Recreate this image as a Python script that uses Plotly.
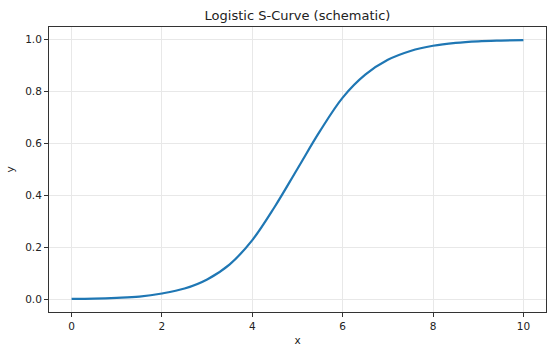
import plotly.graph_objects as go

x_vals = [0, 0.5, 1, 1.5, 2, 2.5, 3, 3.5, 4, 4.5, 5, 5.5, 6, 6.5, 7, 7.5, 8, 8.5, 9, 9.5, 10]
y_vals = [0.003, 0.004, 0.007, 0.012, 0.024, 0.043, 0.078, 0.136, 0.229, 0.358, 0.503,
          0.648, 0.776, 0.864, 0.921, 0.955, 0.975, 0.986, 0.992, 0.995, 0.997]
x_ticks = [0, 2, 4, 6, 8, 10]
y_ticks = [0.0, 0.2, 0.4, 0.6, 0.8, 1.0]
y_tick_text = ["0.0", "0.2", "0.4", "0.6", "0.8", "1.0"]

fig = go.Figure()
fig.add_trace(go.Scatter(x=x_vals, y=y_vals, mode="lines",
                         line=dict(color="#1f77b4", width=2.2, shape="spline", smoothing=1.0),
                         showlegend=False, hoverinfo="skip"))

axis_common = dict(showline=True, linecolor="#333333", linewidth=1, mirror=True,
                   ticks="outside", ticklen=4, tickwidth=1, tickcolor="#333333",
                   showgrid=True, gridcolor="#e8e8e8", gridwidth=1, zeroline=False,
                   tickfont=dict(family="DejaVu Sans", size=10.5, color="#222222"))

fig.update_layout(
    width=554, height=353,
    margin=dict(l=49, r=8, t=27, b=41),
    paper_bgcolor="white", plot_bgcolor="white",
    title=dict(text="Logistic S-Curve (schematic)", x=(49 + 546) / 2 / 554, xanchor="center",
               y=1 - 15 / 353, yanchor="middle",
               font=dict(family="DejaVu Sans", size=13, color="#222222")),
    font=dict(family="DejaVu Sans"),
)
fig.update_xaxes(range=[-0.5, 10.5], tickvals=x_ticks, ticktext=[str(t) for t in x_ticks],
                 title=dict(text="x", font=dict(family="DejaVu Sans", size=10.5, color="#222222"), standoff=6),
                 **axis_common)
fig.update_yaxes(range=[-0.047, 1.047], tickvals=y_ticks, ticktext=y_tick_text,
                 title=dict(text="y", font=dict(family="DejaVu Sans", size=10.5, color="#222222"), standoff=8),
                 **axis_common)

fig.write_html("out.html")
